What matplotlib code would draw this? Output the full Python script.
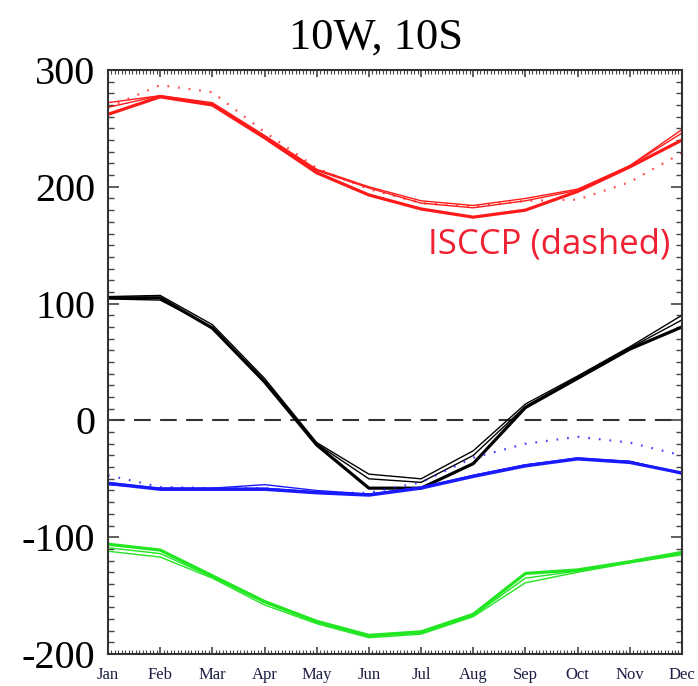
import numpy as np
import matplotlib.pyplot as plt
from matplotlib.ticker import MultipleLocator

plt.rcParams['axes.unicode_minus'] = False

months = ['Jan', 'Feb', 'Mar', 'Apr', 'May', 'Jun',
          'Jul', 'Aug', 'Sep', 'Oct', 'Nov', 'Dec']

# shortwave-type curves (red), three runs + ISCCP
red_a = [272, 278, 272, 244, 215, 200, 188, 184, 190, 198, 218, 249]
red_b = [268, 278, 271, 243, 214, 199, 186, 182, 188, 197, 218, 246]
red_c = [262, 277, 270, 242, 212, 193, 181, 174, 180, 196, 217, 240]
red_isccp = [268, 287, 281, 247, 216, 198, 186, 183, 188, 189, 204, 229]

# net (black)
blk_a = [106, 107, 82, 36, -19, -46, -50, -26, 14, 38, 63, 90]
blk_b = [104, 103, 80, 34, -20, -50, -53, -30, 12, 37, 62, 86]
blk_c = [105, 105, 79, 33, -21, -58, -58, -37, 11, 36, 61, 80]

# blue, three runs + ISCCP
blu_a = [-53, -58, -58, -55, -60, -63, -57, -47, -38, -32, -35, -45]
blu_b = [-55, -58, -58, -58, -61, -63, -58, -47, -38, -33, -35, -46]
blu_c = [-54, -59, -59, -59, -62, -64, -58, -48, -39, -33, -36, -45]
blu_isccp = [-47, -57, -58, -58, -62, -62, -53, -32, -20, -14, -19, -30]

# green
grn_a = [-106, -111, -133, -155, -172, -184, -181, -166, -131, -128, -121, -113]
grn_b = [-109, -114, -134, -156, -173, -185, -182, -167, -135, -129, -121, -114]
grn_c = [-112, -117, -135, -158, -174, -186, -183, -168, -139, -130, -122, -115]

x = np.arange(len(months))

fig = plt.figure(figsize=(6.98, 6.86), dpi=100)
ax = fig.add_axes([0.1547, 0.0466, 0.8223, 0.8514])

RED = '#ff1a1a'
BLUE = '#1a1aff'
GREEN = '#22e622'
dots = (0, (0.8, 4))

ax.axhline(0, color='#333333', lw=1.5, ls=(0, (8, 4.5)), zorder=1)

ax.plot(x, red_a, color=RED, lw=1.0)
ax.plot(x, red_b, color=RED, lw=1.0)
ax.plot(x, red_c, color=RED, lw=2.3)
ax.plot(x, red_isccp, color=RED, lw=1.6, ls=dots, alpha=0.8)

ax.plot(x, blk_a, color='black', lw=1.0)
ax.plot(x, blk_b, color='black', lw=1.0)
ax.plot(x, blk_c, color='black', lw=2.3)

ax.plot(x, blu_a, color=BLUE, lw=1.0)
ax.plot(x, blu_b, color=BLUE, lw=1.0)
ax.plot(x, blu_c, color=BLUE, lw=2.3)
ax.plot(x, blu_isccp, color=BLUE, lw=1.6, ls=dots, alpha=0.8)

ax.plot(x, grn_a, color=GREEN, lw=2.3)
ax.plot(x, grn_b, color=GREEN, lw=1.0)
ax.plot(x, grn_c, color=GREEN, lw=1.0)

ax.set_xlim(0, 11)
ax.set_ylim(-200, 300)
ax.set_xticks(x)
ax.set_xticklabels(months, fontfamily='Liberation Serif', fontsize=12,
                   color='#1c1c44')
ax.xaxis.set_minor_locator(MultipleLocator(1 / 15))
ax.yaxis.set_major_locator(MultipleLocator(100))
ax.yaxis.set_minor_locator(MultipleLocator(10))
for lab in ax.get_yticklabels():
    lab.set_fontfamily('Liberation Serif')
    lab.set_fontsize(29)

ax.tick_params(axis='both', which='both', direction='in',
               top=True, right=True, color='#444444')
ax.tick_params(axis='y', which='major', length=8, width=1.2, pad=9)
ax.tick_params(axis='y', which='minor', length=4, width=1.0)
ax.tick_params(axis='x', which='major', length=5, width=1.2, pad=9)
ax.tick_params(axis='x', which='minor', length=3, width=0.8)
for sp in ax.spines.values():
    sp.set_linewidth(1.5)
    sp.set_color('#333333')

ax.text(0.979, 0.685, 'ISCCP (dashed)', transform=ax.transAxes,
        ha='right', va='baseline', color='#ee2233', fontsize=25,
        fontfamily='Open Sans')

fig.text(0.539, 0.945, '10W, 10S', ha='center', va='center',
         fontfamily='Liberation Serif', fontsize=32)

fig.savefig('out.png', dpi=100)
